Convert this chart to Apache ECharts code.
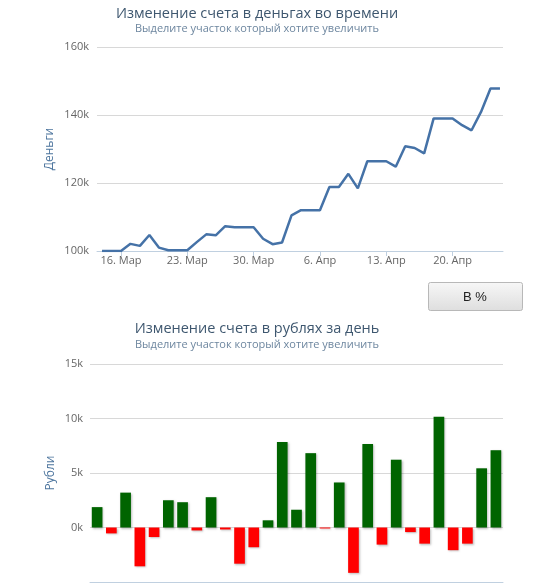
<!DOCTYPE html>
<html><head><meta charset="utf-8">
<script src="https://cdn.jsdelivr.net/npm/echarts@6/dist/echarts.min.js"></script>
<style>html,body{margin:0;padding:0;background:#fff}#c{width:550px;height:583px}</style>
</head><body><div id="c"></div>
<script>
// Top chart: account balance per calendar day (14 Mar .. 25 Apr)
const lineDates = ['14.03','15.03','16.03','17.03','18.03','19.03','20.03','21.03','22.03','23.03','24.03','25.03','26.03','27.03','28.03','29.03','30.03','31.03','01.04','02.04','03.04','04.04','05.04','06.04','07.04','08.04','09.04','10.04','11.04','12.04','13.04','14.04','15.04','16.04','17.04','18.04','19.04','20.04','21.04','22.04','23.04','24.04','25.04'];
const lineValues = [100000,100000,100000,102100,101500,104700,101000,100200,100200,100200,102600,104900,104600,107300,107000,107000,107000,103600,102000,102500,110500,112000,112000,112000,118800,118800,122700,118400,126400,126400,126400,124800,130800,130300,128700,139000,139000,139000,137000,135500,140900,147800,147800];
const xTickIndex = [2, 9, 16, 23, 30, 37];
const xTickLabels = ['16. Мар','23. Мар','30. Мар','6. Апр','13. Апр','20. Апр'];

// Bottom chart: daily change in roubles (trading days)
const barDates = ['17.03','18.03','19.03','20.03','21.03','24.03','25.03','26.03','27.03','28.03','31.03','01.04','02.04','03.04','04.04','07.04','08.04','09.04','10.04','11.04','14.04','15.04','16.04','17.04','18.04','21.04','22.04','23.04','24.04'];
const barValues = [1870,-540,3200,-3560,-875,2500,2320,-270,2780,-180,-3320,-1810,660,7850,1630,6820,-90,4130,-4160,7660,-1570,6220,-420,-1480,10170,-2080,-1480,5430,7090];

const titles = {
  top: 'Изменение счета в деньгах во времени',
  bottom: 'Изменение счета в рублях за день',
  sub: 'Выделите участок который хотите увеличить',
  yTop: 'Деньги',
  yBottom: 'Рубли',
  button: 'В %'
};

const FONT = '"Open Sans", "DejaVu Sans", sans-serif';
const kfmt = v => (v / 1000) + 'k';

const chart = echarts.init(document.getElementById('c'), null, {renderer: 'canvas'});
chart.setOption({
  animation: false,
  backgroundColor: '#fff',
  textStyle: {fontFamily: FONT},
  grid: [
    {left: 97, right: 47, top: 47, height: 204},
    {left: 90, right: 47, top: 364, height: 218}
  ],
  xAxis: [
    {
      type: 'value', gridIndex: 0, min: -0.53, max: 42.32,
      axisLine: {show: true, lineStyle: {color: '#C0D0E0', width: 1}},
      axisTick: {show: true, customValues: xTickIndex, length: 5, lineStyle: {color: '#C0D0E0'}},
      axisLabel: {customValues: xTickIndex, formatter: v => xTickLabels[xTickIndex.indexOf(v)], color: '#666', fontSize: 11, margin: 4, fontFamily: FONT},
      splitLine: {show: false}
    },
    {
      type: 'category', gridIndex: 1, data: barDates,
      axisLine: {show: true, onZero: false, lineStyle: {color: '#C0D0E0', width: 1}},
      axisTick: {show: false},
      axisLabel: {show: false},
      splitLine: {show: false}
    }
  ],
  yAxis: [
    {
      type: 'value', gridIndex: 0, min: 100000, max: 160000, interval: 20000,
      axisLine: {show: false}, axisTick: {show: false},
      axisLabel: {formatter: kfmt, color: '#666', fontSize: 11, margin: 8, fontFamily: FONT},
      splitLine: {lineStyle: {color: '#D8D8D8', width: 1}},
      name: titles.yTop, nameLocation: 'middle', nameGap: 41, nameMoveOverlap: false,
      nameTextStyle: {color: '#4d759e', fontSize: 12, fontFamily: FONT}
    },
    {
      type: 'value', gridIndex: 1, min: -5000, max: 15000, interval: 5000,
      axisLine: {show: false}, axisTick: {show: false},
      axisLabel: {formatter: kfmt, color: '#666', fontSize: 11, margin: 7, showMinLabel: false, fontFamily: FONT},
      splitLine: {lineStyle: {color: '#D8D8D8', width: 1}},
      name: titles.yBottom, nameLocation: 'middle', nameGap: 33, nameMoveOverlap: false,
      nameTextStyle: {color: '#4d759e', fontSize: 12, fontFamily: FONT}
    }
  ],
  series: [
    {
      type: 'line', xAxisIndex: 0, yAxisIndex: 0,
      data: lineValues.map((v, i) => [i, v]),
      showSymbol: false,
      lineStyle: {color: '#4572A7', width: 2.5},
      itemStyle: {color: '#4572A7'}
    },
    {
      type: 'bar', xAxisIndex: 1, yAxisIndex: 1,
      data: barValues,
      barWidth: '75%',
      itemStyle: {
        color: p => p.value >= 0 ? '#006400' : '#FF0000',
        shadowBlur: 2, shadowColor: 'rgba(0,0,0,0.25)', shadowOffsetX: 1, shadowOffsetY: 1
      }
    }
  ],
  graphic: [
    {type: 'text', x: 257, y: 14, style: {text: titles.top, fill: '#3E576F', font: '14.5px ' + FONT, align: 'center', verticalAlign: 'middle'}},
    {type: 'text', x: 257, y: 29, style: {text: titles.sub, fill: '#6D869F', font: '11px ' + FONT, align: 'center', verticalAlign: 'middle'}},
    {type: 'text', x: 257, y: 329, style: {text: titles.bottom, fill: '#3E576F', font: '14.5px ' + FONT, align: 'center', verticalAlign: 'middle'}},
    {type: 'text', x: 257, y: 345, style: {text: titles.sub, fill: '#6D869F', font: '11px ' + FONT, align: 'center', verticalAlign: 'middle'}},
    {type: 'rect', shape: {x: 428.5, y: 282.5, width: 94, height: 28, r: 2},
     style: {fill: new echarts.graphic.LinearGradient(0, 0, 0, 1, [{offset: 0, color: '#f7f7f7'}, {offset: 1, color: '#dedede'}]), stroke: '#b8b8b8', lineWidth: 1}},
    {type: 'text', x: 475, y: 297, style: {text: titles.button, fill: '#222', font: '13px "Liberation Sans", Arial, sans-serif', align: 'center', verticalAlign: 'middle'}}
  ]
});
</script>
</body></html>
